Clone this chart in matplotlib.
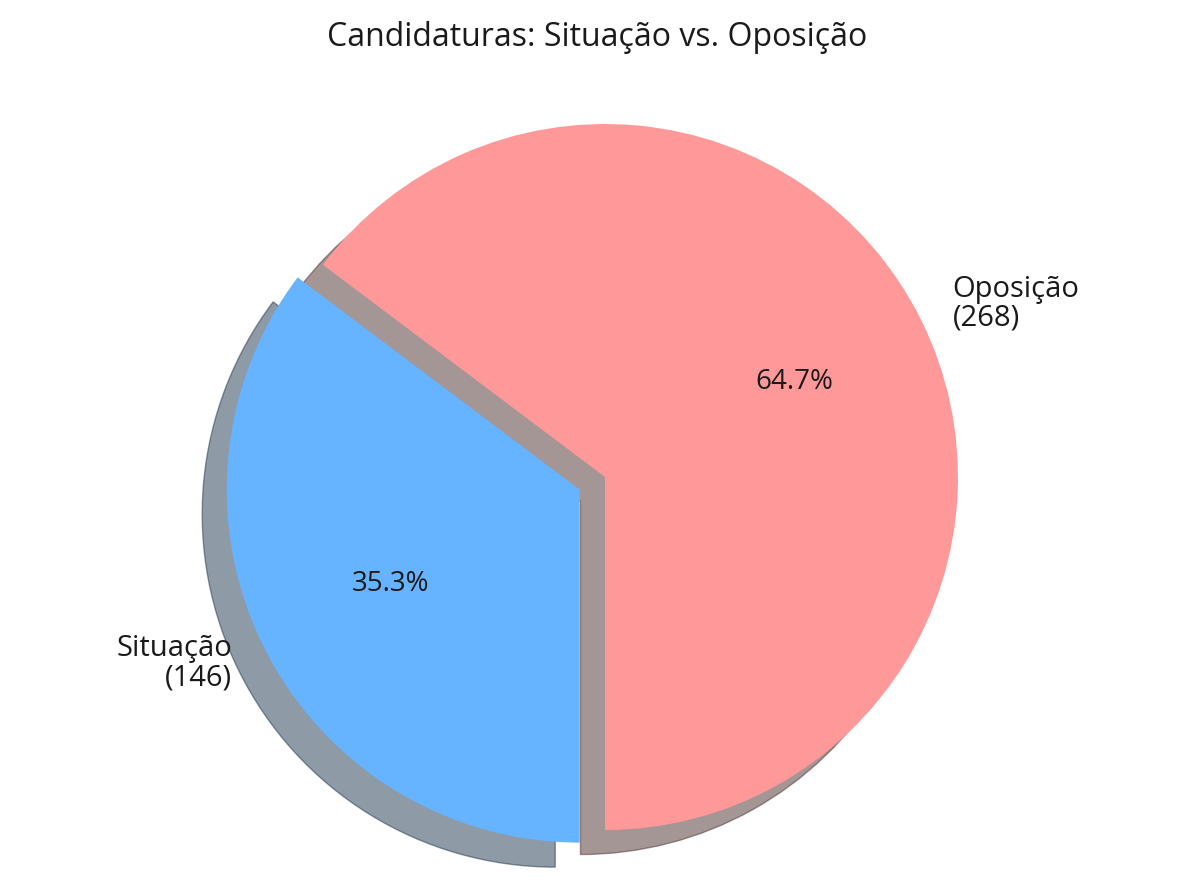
import matplotlib
matplotlib.use("Agg")
import matplotlib.pyplot as plt

# Candidaturas por grupo
labels = ["Oposição", "Situação"]
counts = [268, 146]
colors = ["#ff9999", "#66b3ff"]
explode = [0, 0.08]

W, H = 1195, 896
cx, cy, r = 605, 896 - 477, 353  # pie centre / radius in pixels

plt.rcParams["font.family"] = ["Open Sans", "DejaVu Sans"]

fig = plt.figure(figsize=(W / 100, H / 100), dpi=100)
ax = fig.add_axes([0, 0, 1, 1])

pie_labels = [f"{name}\n({n})" for name, n in zip(labels, counts)]
wedges, texts, autotexts = ax.pie(
    counts,
    labels=pie_labels,
    colors=colors,
    explode=explode,
    startangle=-90,
    autopct="%1.1f%%",
    shadow={"ox": -0.05, "oy": -0.05},
    textprops={"fontsize": 21, "color": "#1a1a1a"},
)
for t in texts:
    t.set_linespacing(1.0)
for t in autotexts:
    t.set_fontsize(20)

# map the data units so the pie sits where it does in the original
ax.set_xlim(-cx / r, (W - cx) / r)
ax.set_ylim(-cy / r, (H - cy) / r)
ax.set_aspect("equal")
ax.axis("off")

fig.text(0.5, 1 - 37 / H, "Candidaturas: Situação vs. Oposição",
         ha="center", va="center", fontsize=23, color="#1a1a1a")

fig.savefig("out.png", dpi=100)
